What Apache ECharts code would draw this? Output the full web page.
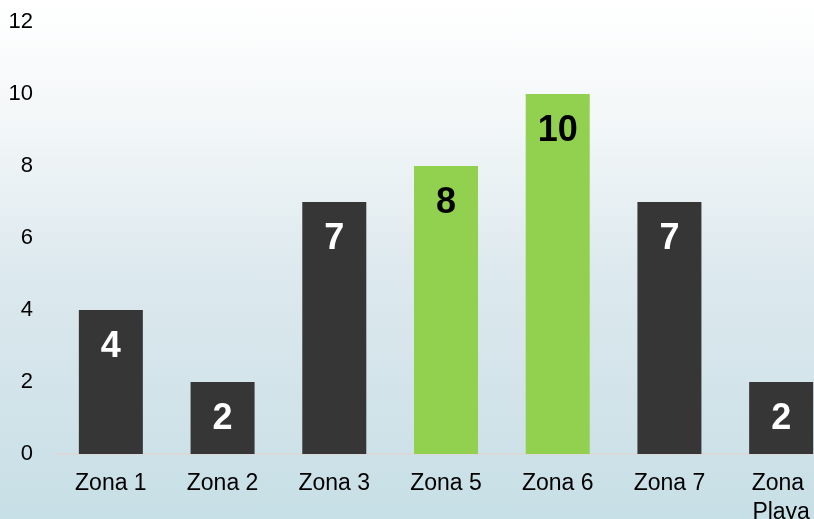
<!DOCTYPE html>
<html>
<head>
<meta charset="utf-8">
<script src="https://cdn.jsdelivr.net/npm/echarts@6/dist/echarts.min.js"></script>
<style>
  html, body { margin: 0; padding: 0; }
  #chart {
    width: 814px; height: 519px;
    background: linear-gradient(to bottom, #ffffff 0%, #f3f7f8 23%, #dde9ee 52%, #c7dfe6 100%);
  }
</style>
</head>
<body>
<div id="chart"></div>
<script>
// Zones and their counts
const categories = ['Zona 1', 'Zona 2', 'Zona 3', 'Zona 5', 'Zona 6', 'Zona 7', 'Zona Playa'];
const values = [4, 2, 7, 8, 10, 7, 2];
// Zones drawn in the highlight colour
const highlighted = ['Zona 5', 'Zona 6'];

const DARK = '#363636';
const GREEN = '#92d050';

const chart = echarts.init(document.getElementById('chart'), null, { renderer: 'canvas' });

const barData = values.map((v, i) => {
  const hi = highlighted.includes(categories[i]);
  return {
    value: v,
    itemStyle: { color: hi ? GREEN : DARK },
    label: { color: hi ? '#000000' : '#ffffff' }
  };
});

chart.setOption({
  backgroundColor: 'transparent',
  animation: false,
  grid: { left: 55, top: 22, bottom: 65, width: 782, containLabel: false, outerBoundsMode: 'none' },
  xAxis: {
    type: 'category',
    data: categories,
    axisLine: { show: true, lineStyle: { color: '#d9d9d9', width: 2 } },
    axisTick: { show: false },
    axisLabel: {
      color: '#000000',
      fontFamily: 'Liberation Sans, Arial, sans-serif',
      fontSize: 23,
      lineHeight: 29,
      margin: 15,
      interval: 0,
      width: 80,
      overflow: 'break'
    }
  },
  yAxis: {
    type: 'value',
    min: 0,
    max: 12,
    interval: 2,
    axisLine: { show: false },
    axisTick: { show: false },
    splitLine: { show: false },
    axisLabel: {
      color: '#000000',
      fontFamily: 'Liberation Sans, Arial, sans-serif',
      fontSize: 22,
      margin: 22
    }
  },
  series: [{
    type: 'bar',
    data: barData,
    barWidth: 64,
    label: {
      show: true,
      position: 'insideTop',
      distance: 19,
      fontFamily: 'Liberation Sans, Arial, sans-serif',
      fontWeight: 'bold',
      fontSize: 36
    }
  }]
});
</script>
</body>
</html>
